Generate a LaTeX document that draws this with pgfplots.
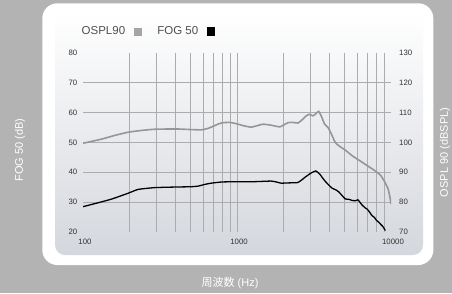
\documentclass[border=0pt]{standalone}
\usepackage{pgfplots}
\pgfplotsset{compat=1.18}
\usepackage{fontspec}
\setmainfont{Liberation Sans}
\newfontfamily\cjk{Noto Sans CJK JP}
\definecolor{bggray}{RGB}{179,179,179}
\definecolor{panelbot}{RGB}{212,215,221}
\definecolor{ospl}{RGB}{150,150,150}
\definecolor{osplsq}{RGB}{165,165,165}
\definecolor{gridc}{RGB}{172,172,172}
\definecolor{ticktext}{RGB}{50,50,50}
\definecolor{legtext}{RGB}{80,80,80}
\begin{document}
\begin{tikzpicture}[x=1pt,y=1pt]
\clip (0,0) rectangle (452,293);
\fill[bggray] (0,0) rectangle (452,293);
\fill[white, rounded corners=15pt] (42.3,28) rectangle (433.3,289.7);
\shade[top color=white, bottom color=panelbot, rounded corners=10pt] (55,38) rectangle (423,280);
\node[white, rotate=90, font=\fontsize{11}{13}\selectfont] at (20,143) {FOG 50 (dB)};
\node[white, rotate=90, font=\fontsize{11}{13}\selectfont] at (445,140.5) {OSPL 90 (dBSPL)};
\node[white, font=\fontsize{11}{13}\selectfont] at (230,10.3) {{\cjk 周波数} (Hz)};

\begin{axis}[
  at={(83pt,61.3pt)}, anchor=south west, scale only axis,
  width=308pt, height=178.7pt,
  xmode=log, xmin=100, xmax=10000, ymin=20, ymax=80,
  axis line style={draw=none},
  xtick={100,1000,10000}, xticklabels={100,1000,10000},
  minor xtick={200,300,400,500,600,700,800,900,1000,2000,3000,4000,5000,6000,7000,8000,9000},
  xminorgrids=true,
  ytick={20,30,40,50,60,70,80},
  minor ytick={30,40,50,60,70}, yminorgrids=true,
  major tick length=0pt, minor tick length=0pt,
  minor grid style={gridc, line width=0.6pt},
  tick label style={font=\fontsize{7.8}{9}\selectfont, text=ticktext},
  yticklabel style={anchor=east, inner sep=0pt, xshift=-5.5pt},
  xticklabel style={anchor=north, inner sep=0pt, yshift=-7pt, xshift=2pt},
  /pgf/number format/assume math mode=true,
  legend columns=2,
  legend plot pos=right,
  legend style={at={(0,1)}, anchor=west, xshift=-3.5pt, yshift=21.5pt,
    draw=none, fill=none, inner sep=0pt,
    font=\fontsize{11.5}{12}\selectfont, text=legtext,
    /tikz/column 2/.style={column sep=14pt}},
]
\addlegendimage{legend image code/.code={\path[draw=none,fill=none] (0pt,0pt) rectangle (7pt,0pt); \fill[osplsq] (7pt,-3.5pt) rectangle (14pt,3.5pt);}}
\addlegendentry{OSPL90}
\addplot[black, line width=1.3pt, smooth, tension=0.3,
  legend image code/.code={\path[draw=none,fill=none] (0pt,0pt) rectangle (7pt,0pt); \fill[black] (7pt,-3.8pt) rectangle (14.5pt,3.8pt);}]
coordinates {
(100,28.4) (150,30.8) (196,32.9) (228,34.2) (292,34.8) (400,35.0) (500,35.1)
(558,35.3) (620,35.9) (681,36.3) (800,36.7) (1045,36.8) (1300,36.8) (1665,37.0)
(1800,36.7) (1935,36.3) (2200,36.4) (2480,36.5) (2650,37.5) (2800,38.5) (3050,39.8)
(3250,40.4) (3450,39.3) (3700,37.2) (3940,35.7) (4150,34.6) (4400,34.0) (4575,33.4)
(4800,32.2) (5050,31.0) (5300,30.9) (5600,30.5) (5865,30.4) (6100,30.7) (6300,29.8)
(6480,29.0) (6800,28.0) (7000,27.6) (7250,26.6) (7530,25.4) (7800,24.8) (8050,23.8)
(8320,23.2) (8600,22.4) (8900,21.6) (9180,20.4)
};
\addlegendentry{FOG 50}
\end{axis}

\begin{axis}[
  at={(83pt,61.3pt)}, anchor=south west, scale only axis,
  width=308pt, height=178.7pt,
  xmode=log, xmin=100, xmax=10000, ymin=70, ymax=130,
  hide x axis, axis y line*=right, axis line style={draw=none},
  ytick={70,80,90,100,110,120,130},
  major tick length=0pt,
  tick label style={font=\fontsize{7.8}{9}\selectfont, text=ticktext},
  yticklabel style={anchor=west, inner sep=0pt, xshift=8pt},
  /pgf/number format/assume math mode=true,
]
\addplot[ospl, line width=1.6pt, smooth, tension=0.3] coordinates {
(100,99.7) (130,101.0) (160,102.3) (196,103.4) (240,104.0) (292,104.4) (400,104.5)
(500,104.3) (587,104.2) (650,104.7) (700,105.4) (760,106.2) (810,106.6) (900,106.7)
(1000,106.2) (1100,105.6) (1233,105.1) (1350,105.6) (1475,106.1) (1650,105.8)
(1893,105.2) (2000,105.8) (2143,106.6) (2300,106.7) (2490,106.5) (2650,107.6)
(2820,108.9) (2950,109.4) (3115,108.9) (3250,109.6) (3390,110.4) (3550,108.5)
(3700,106.2) (3900,105.0) (4100,102.8) (4340,100.0) (4600,98.8) (5050,97.4)
(5600,95.5) (6200,94.0) (7000,92.2) (7600,91.0) (8100,90.0) (8600,88.8)
(9200,86.3) (9600,84.2) (9850,81.5) (10000,79.3)
};
\end{axis}
\end{tikzpicture}
\end{document}
